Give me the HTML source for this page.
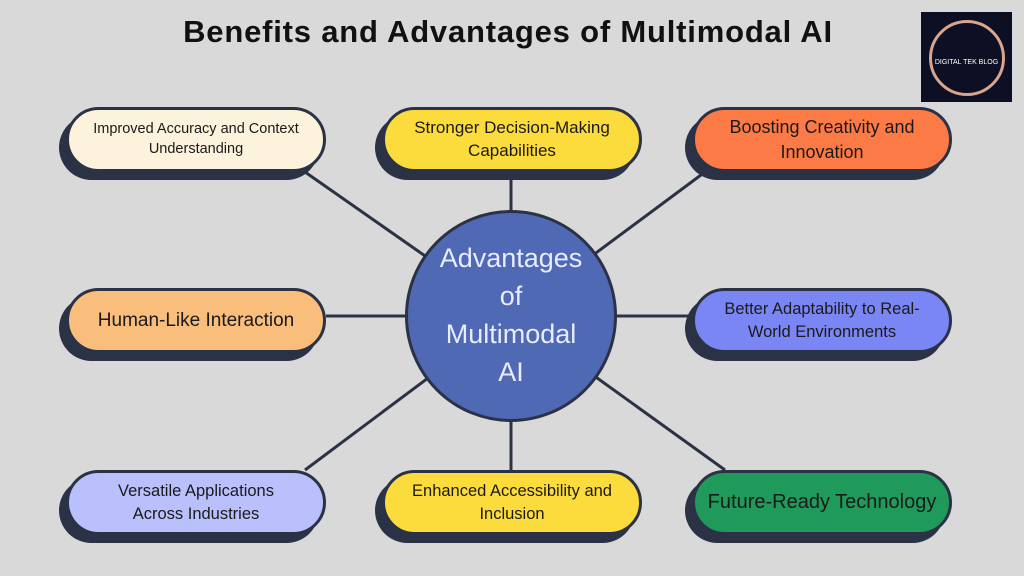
<!DOCTYPE html>
<html><head><style>
body{margin:0;width:1024px;height:576px;background:#d9d9d9;position:relative;overflow:hidden;font-family:"Liberation Sans",sans-serif}
.t{position:absolute;left:0;width:1016px;top:14px;text-align:center;font-weight:bold;font-size:31px;letter-spacing:0.8px;color:#111}
.b{position:absolute;width:260px;height:65px;border:3px solid #2b3246;border-radius:33px;box-shadow:-7px 8px 0 #2b3246;display:flex;align-items:center;justify-content:center;text-align:center;color:#1a1a1a;box-sizing:border-box;line-height:1.35}
.c{position:absolute;left:405px;top:210px;width:212px;height:212px;border-radius:50%;background:#5069b5;border:3px solid #2b3246;box-sizing:border-box;display:flex;align-items:center;justify-content:center;text-align:center;color:#e8ecff;font-size:27px;line-height:1.4}
</style></head><body>
<svg width="1024" height="576" style="position:absolute;left:0;top:0" stroke="#2b3246" stroke-width="3">
<line x1="305" y1="172" x2="511" y2="316"/><line x1="511" y1="172" x2="511" y2="316"/><line x1="705" y1="172" x2="511" y2="316"/>
<line x1="326" y1="316" x2="700" y2="316"/>
<line x1="305" y1="470" x2="511" y2="316"/><line x1="511" y1="470" x2="511" y2="316"/><line x1="725" y1="470" x2="511" y2="316"/>
</svg>
<div class="t">Benefits and Advantages of Multimodal AI</div>
<div style="position:absolute;left:921px;top:12px;width:91px;height:90px;background:#0d0f24"><div style="position:absolute;left:8px;top:8px;width:70px;height:70px;border-radius:50%;border:3px solid #d9a58c"></div><div style="position:absolute;left:0;width:91px;top:47px;text-align:center;color:#fff;font-size:7px">DIGITAL TEK BLOG</div></div>
<div class="b" style="left:66px;top:107px;background:#fdf3dc;font-size:14.5px">Improved Accuracy and Context<br>Understanding</div>
<div class="b" style="left:382px;top:107px;background:#fcdc3c;font-size:17px">Stronger Decision-Making<br>Capabilities</div>
<div class="b" style="left:692px;top:107px;background:#fb7a45;font-size:18px">Boosting Creativity and<br>Innovation</div>
<div class="b" style="left:66px;top:288px;background:#f9bd7c;font-size:19px">Human-Like Interaction</div>
<div class="b" style="left:692px;top:288px;background:#7b86f5;font-size:16.5px">Better Adaptability to Real-<br>World Environments</div>
<div class="b" style="left:66px;top:470px;background:#b9c0fc;font-size:16.5px">Versatile Applications<br>Across Industries</div>
<div class="b" style="left:382px;top:470px;background:#fcdc3c;font-size:16.5px">Enhanced Accessibility and<br>Inclusion</div>
<div class="b" style="left:692px;top:470px;background:#1f9a5a;font-size:20px">Future-Ready Technology</div>
<div class="c">Advantages<br>of<br>Multimodal<br>AI</div>
</body></html>
